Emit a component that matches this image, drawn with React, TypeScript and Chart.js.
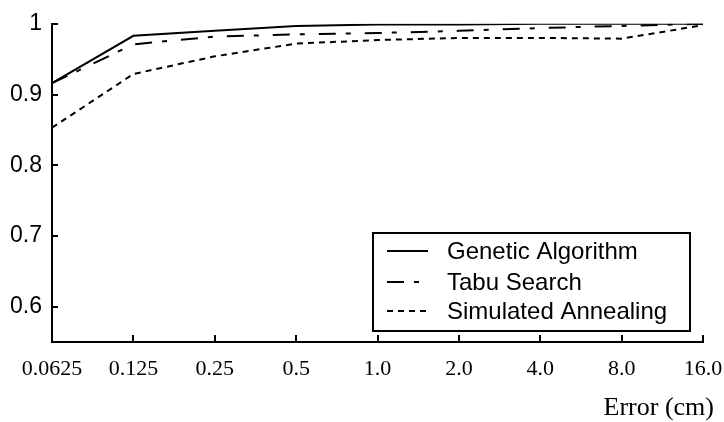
import { useEffect, useRef } from "react";
import { Chart, registerables } from "chart.js";

Chart.register(...registerables);

// Localization error thresholds (cm) along the x axis
const errorLabels = ["0.0625", "0.125", "0.25", "0.5", "1.0", "2.0", "4.0", "8.0", "16.0"];

// Cumulative fraction of trials within each error threshold
const geneticAlgorithm = [0.916, 0.983, 0.99, 0.997, 0.999, 0.999, 1.0, 1.0, 1.0];
const tabuSearch = [0.916, 0.971, 0.982, 0.985, 0.987, 0.99, 0.994, 0.997, 1.0];
const simulatedAnnealing = [0.853, 0.929, 0.954, 0.972, 0.977, 0.98, 0.98, 0.979, 0.998];

const yTickValues = [0.6, 0.7, 0.8, 0.9, 1];
const seriesNames = ["Genetic Algorithm", "Tabu Search", "Simulated Annealing"];
const xAxisTitle = "Error (cm)";

const SANS = "'Liberation Sans', Arial, sans-serif";
const SERIF = "'Liberation Serif', 'Times New Roman', serif";

const dashes: number[][] = [[], [17, 10, 5, 14], [6, 5]];

// Inward tick marks, boxed legend and the axis caption
const decorations = {
  id: "decorations",
  afterDraw(chart: any) {
    const ctx: CanvasRenderingContext2D = chart.ctx;
    const xs = chart.scales.x;
    const ys = chart.scales.y;
    const area = chart.chartArea;
    ctx.save();
    ctx.strokeStyle = "#000";
    ctx.fillStyle = "#000";
    ctx.lineWidth = 2;
    ctx.setLineDash([]);

    const seg = (x1: number, y1: number, x2: number, y2: number) => {
      ctx.beginPath();
      ctx.moveTo(x1, y1);
      ctx.lineTo(x2, y2);
      ctx.stroke();
    };

    ys.ticks.forEach((_: any, i: number) => {
      const py = Math.round(ys.getPixelForTick(i));
      seg(area.left, py, area.left + 6, py);
    });
    xs.ticks.forEach((_: any, i: number) => {
      const px = Math.round(xs.getPixelForTick(i));
      seg(px, area.bottom, px, area.bottom - 7);
    });

    // legend box
    const boxRight = area.right - 13;
    const boxBottom = area.bottom - 11;
    const boxW = 317;
    const boxH = 98;
    const boxLeft = boxRight - boxW;
    const boxTop = boxBottom - boxH;
    ctx.strokeRect(boxLeft, boxTop, boxW, boxH);

    const rows = [boxTop + 18, boxTop + 49, boxTop + 78];
    ctx.font = `24px ${SANS}`;
    ctx.textBaseline = "middle";
    ctx.textAlign = "left";
    chart.data.datasets.forEach((ds: any, i: number) => {
      const ry = rows[i];
      ctx.setLineDash(ds.borderDash || []);
      ctx.lineWidth = 2;
      seg(boxLeft + 14, ry, boxLeft + 55, ry);
      ctx.setLineDash([]);
      ctx.fillText(ds.label, boxLeft + 74, ry + 1);
    });

    // x axis caption
    ctx.font = `26px ${SERIF}`;
    ctx.textAlign = "right";
    ctx.fillText(xAxisTitle, area.right + 11, 408);
    ctx.restore();
  },
};

export default function App() {
  const ref = useRef<HTMLCanvasElement | null>(null);

  useEffect(() => {
    if (!ref.current) return;
    const series = [geneticAlgorithm, tabuSearch, simulatedAnnealing];
    const chart = new Chart(ref.current, {
      type: "line",
      data: {
        labels: errorLabels,
        datasets: series.map((values, i) => ({
          label: seriesNames[i],
          data: values,
          borderColor: "#000",
          borderWidth: 2,
          borderDash: dashes[i],
          pointRadius: 0,
          tension: 0,
          fill: false,
        })),
      },
      options: {
        animation: false,
        responsive: false,
        devicePixelRatio: 1,
        layout: { padding: { top: 20, right: 21, left: 0, bottom: 0 } },
        plugins: { legend: { display: false }, tooltip: { enabled: false } },
        scales: {
          x: {
            type: "category",
            offset: false,
            grid: { display: false, drawTicks: false },
            border: { display: true, color: "#000", width: 2 },
            ticks: {
              color: "#000",
              font: { family: SERIF, size: 22 },
              padding: 14,
              maxRotation: 0,
              autoSkip: false,
            },
            afterFit: (s: any) => {
              s.height = 80;
              s.paddingLeft = 0;
              s.paddingRight = 0;
            },
          },
          y: {
            min: 0.55,
            max: 1,
            grid: { display: false, drawTicks: false },
            border: { display: true, color: "#000", width: 2 },
            afterBuildTicks: (s: any) => {
              s.ticks = yTickValues.map((v) => ({ value: v }));
            },
            ticks: {
              color: "#000",
              font: { family: SANS, size: 23 },
              padding: 10,
              callback: (v: any) => String(Math.round(Number(v) * 10) / 10),
            },
            afterFit: (s: any) => {
              s.width = 52;
            },
          },
        },
      },
      plugins: [decorations],
    });
    return () => chart.destroy();
  }, []);

  return (
    <div style={{ position: "absolute", left: 0, top: 0, width: 724, height: 422, background: "#fff" }}>
      <canvas ref={ref} width={724} height={422} style={{ width: 724, height: 422, display: "block" }} />
    </div>
  );
}
